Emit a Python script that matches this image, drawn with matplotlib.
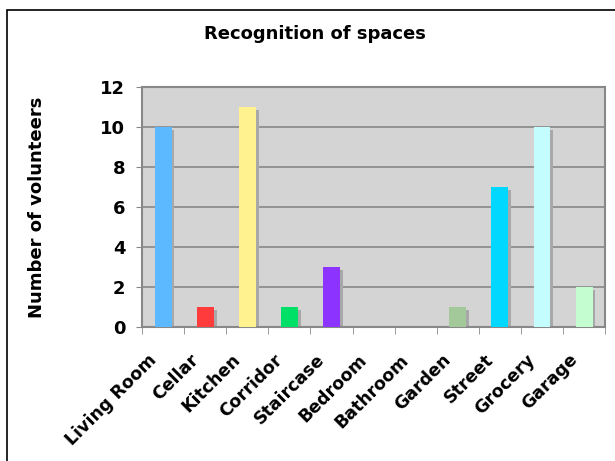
import numpy as np
import matplotlib.pyplot as plt
import matplotlib.transforms as mtransforms
from matplotlib.patches import Rectangle

# Datos
categories = ['Living Room', 'Cellar', 'Kitchen', 'Corridor', 'Staircase', 'Bedroom',
              'Bathroom', 'Garden', 'Street', 'Grocery', 'Garage']
volunteers = [10, 1, 11, 1, 3, 0, 0, 1, 7, 10, 2]
colors = ['#5cb8ff', '#ff3b3b', '#fff28f', '#00e066', '#8c33ff', '#cccccc',
          '#cccccc', '#a3c99a', '#00d8ff', '#c4fdfd', '#c4fdd0']

fig = plt.figure(figsize=(6.15, 4.61), dpi=100)
ax = fig.add_axes([0.231, 0.291, 0.753, 0.520])

x = np.arange(len(categories))
w = 0.4
# Sombra de las barras
ax.bar(x + 0.07, np.array(volunteers) - 0.15, width=w, color='#a8a8a8', zorder=2)
ax.bar(x, volunteers, width=w, color=colors, zorder=3)

ax.set_facecolor('#d4d4d4')
ax.set_xlim(-0.5, len(categories) - 0.5)
ax.set_ylim(0, 12)
ax.set_yticks(range(0, 13, 2))
ax.yaxis.grid(True, color='#888888', linewidth=1.2, zorder=1)
ax.set_axisbelow(True)

ax.set_xticks(x)
ax.set_xticklabels(categories, rotation=45, ha='right', rotation_mode='anchor',
                   fontsize=12.5, fontweight='bold')
ax.tick_params(axis='x', length=0, pad=10)
offset = mtransforms.ScaledTranslation(-16 / 100, -10 / 100, fig.dpi_scale_trans)
for lab in ax.get_xticklabels():
    lab.set_transform(lab.get_transform() + offset)
ax.set_xticks(np.arange(-0.5, len(categories)), minor=True)
ax.tick_params(axis='x', which='minor', length=5, color='#888888')
ax.tick_params(axis='y', labelsize=13, length=4, color='#888888', pad=8)
for lab in ax.get_yticklabels():
    lab.set_fontweight('bold')

for s in ax.spines.values():
    s.set_color('#888888')
    s.set_linewidth(1.5)

ax.set_ylabel('Number of volunteers', fontsize=13, fontweight='bold')
ax.yaxis.set_label_coords(46 / 615, 1 - 207 / 461, transform=fig.transFigure)
fig.text(0.512, 1 - 34 / 461, 'Recognition of spaces', ha='center', va='center',
         fontsize=13, fontweight='bold')

# Marco exterior
fig.patches.append(Rectangle((7 / 615, -0.05), 1.1, 1 - 10 / 461 + 0.05,
                             transform=fig.transFigure, fill=False,
                             edgecolor='black', linewidth=1.2))

fig.savefig('out.png', dpi=100)
